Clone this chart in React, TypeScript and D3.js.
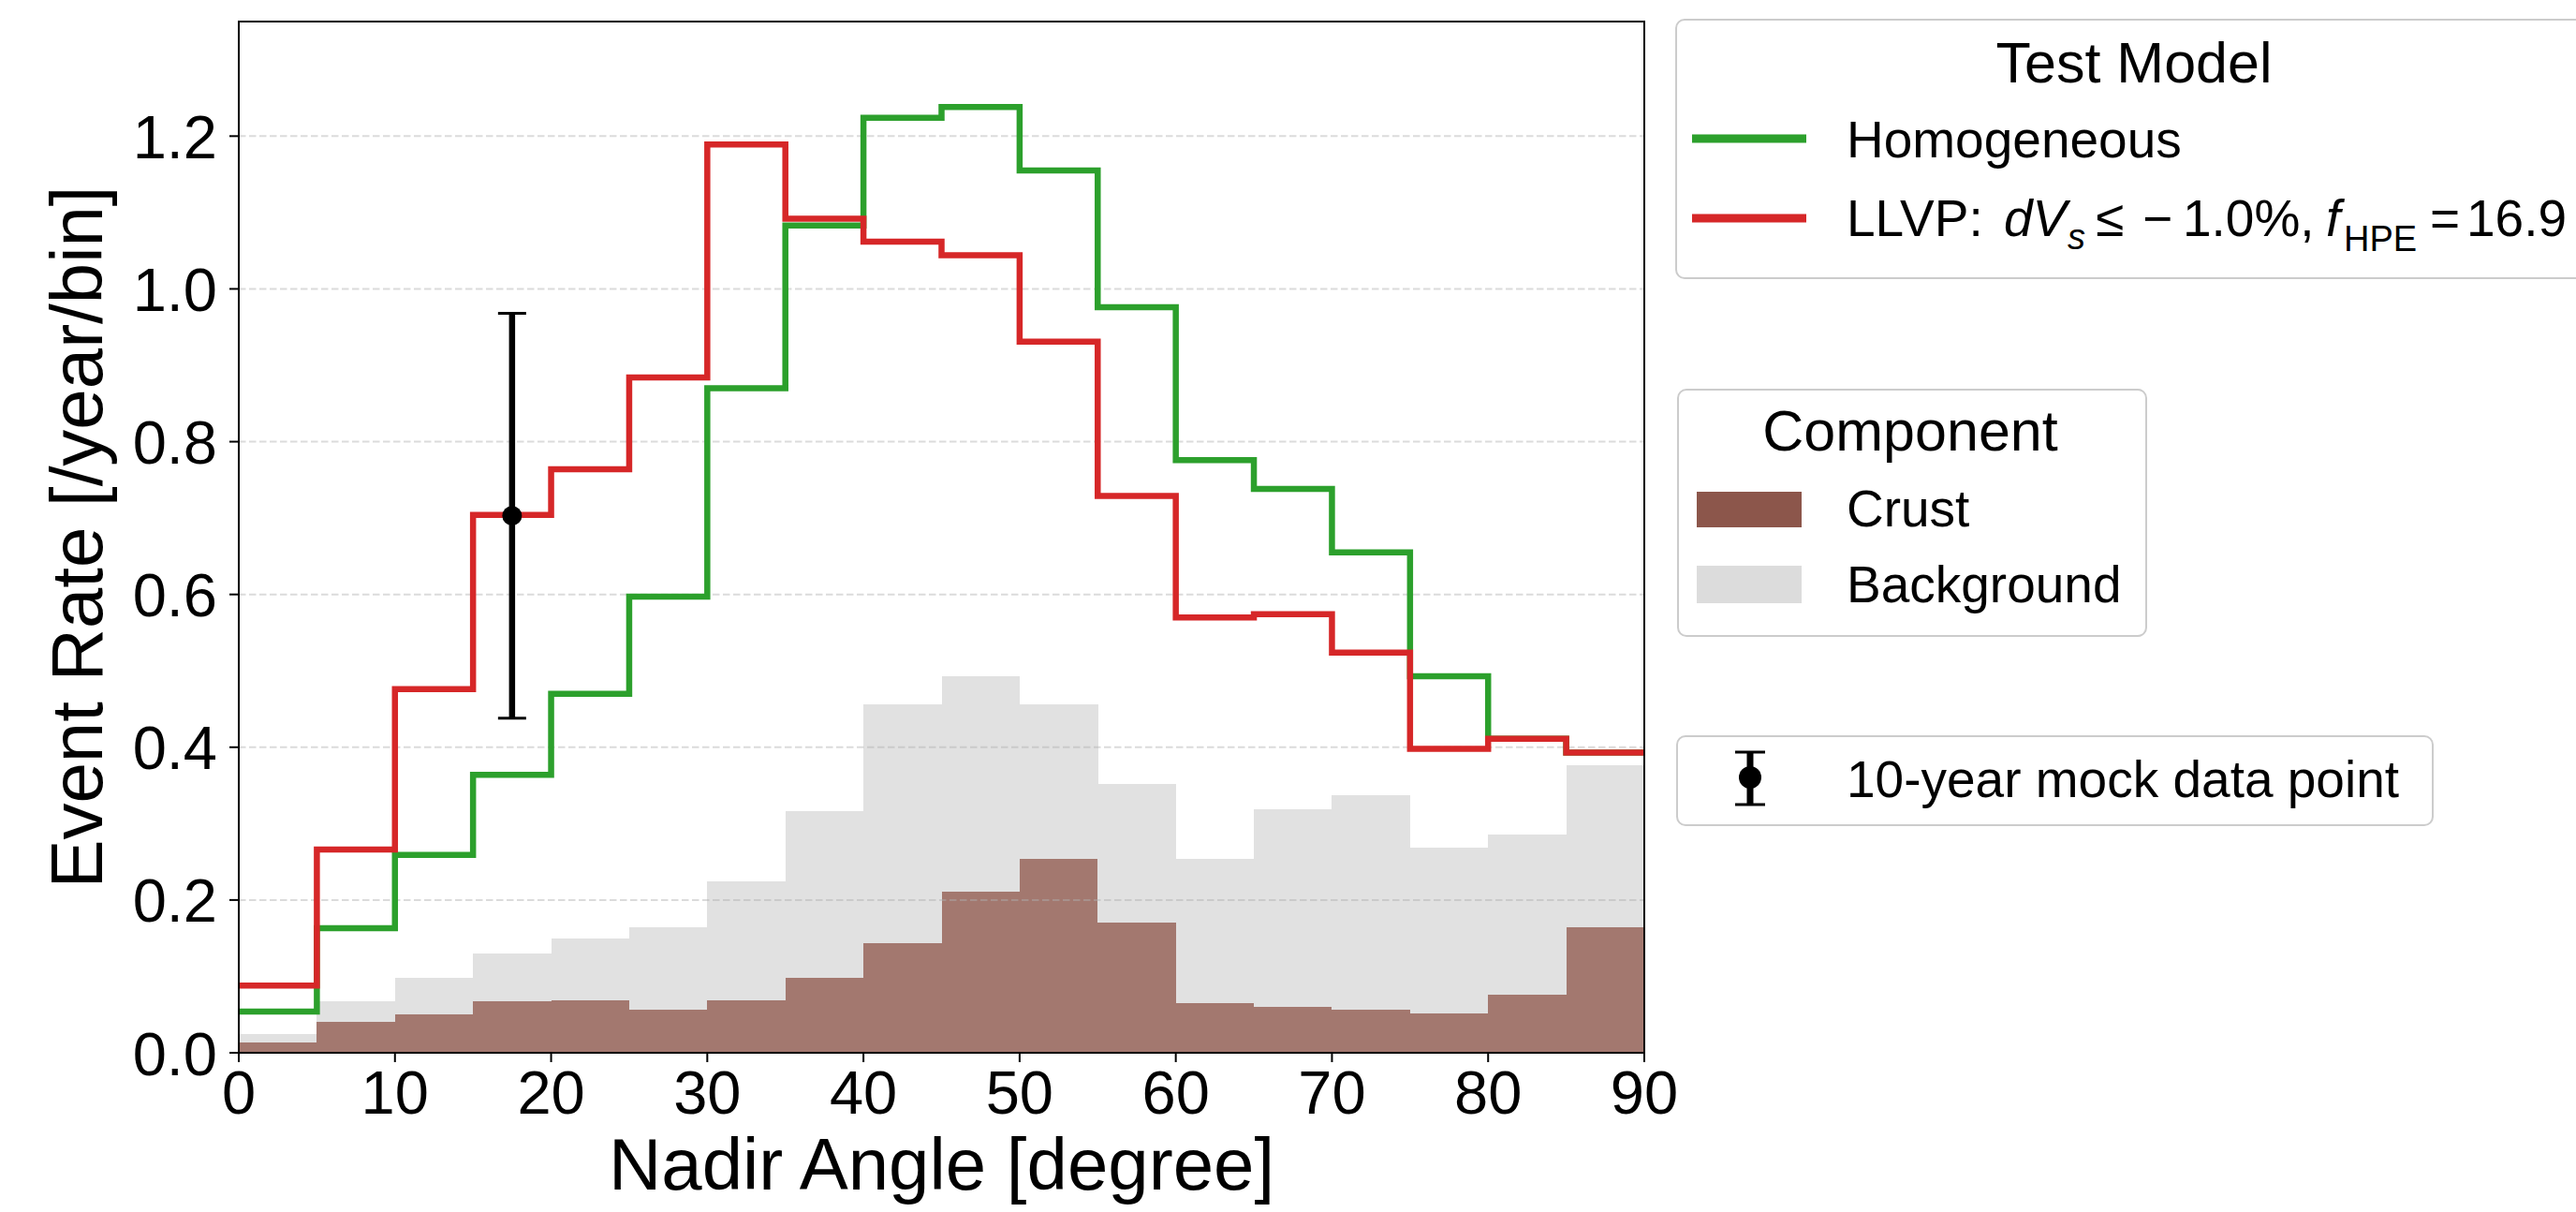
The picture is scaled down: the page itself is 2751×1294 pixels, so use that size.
import React from "react";
import * as d3 from "d3";

// ---- data ----
const binEdges = [0, 5, 10, 15, 20, 25, 30, 35, 40, 45, 50, 55, 60, 65, 70, 75, 80, 85, 90];
const homogeneous = [0.054, 0.163, 0.259, 0.364, 0.470, 0.597, 0.870, 1.083, 1.224, 1.238, 1.155, 0.976, 0.776, 0.738, 0.655, 0.493, 0.411, 0.393];
const llvp = [0.088, 0.266, 0.476, 0.704, 0.764, 0.884, 1.189, 1.092, 1.062, 1.044, 0.931, 0.729, 0.570, 0.574, 0.524, 0.398, 0.411, 0.393];
const crust = [0.013, 0.040, 0.050, 0.067, 0.069, 0.056, 0.069, 0.098, 0.144, 0.211, 0.254, 0.171, 0.065, 0.060, 0.056, 0.051, 0.076, 0.164];
const background = [0.011, 0.027, 0.048, 0.063, 0.081, 0.108, 0.155, 0.218, 0.312, 0.282, 0.202, 0.181, 0.189, 0.259, 0.281, 0.218, 0.210, 0.213];
const mockPoint = { x: 17.5, y: 0.703, err: 0.265 };
const xTicks = [0, 10, 20, 30, 40, 50, 60, 70, 80, 90];
const yTicks = [0.0, 0.2, 0.4, 0.6, 0.8, 1.0, 1.2];

const W = 2751;
const H = 1294;
const FONT = "'Liberation Sans', Arial, Helvetica, sans-serif";

const COLORS = {
  homo: "#2ca02c",
  llvp: "#d62728",
  crustFill: "#a3786f",
  crustLegend: "#8c564b",
  bg: "#e1e1e1",
  bgLegend: "#dcdcdc",
};

export default function App() {
  const x = d3.scaleLinear().domain([0, 90]).range([255, 1756]);
  const y = d3.scaleLinear().domain([0, 1.35]).range([1124, 23]);

  const stepLine = (vals: number[]) => {
    const pts: [number, number][] = vals.map((v, i) => [binEdges[i], v]);
    pts.push([binEdges[binEdges.length - 1], vals[vals.length - 1]]);
    return d3
      .line<[number, number]>()
      .x((d) => x(d[0]))
      .y((d) => y(d[1]))
      .curve(d3.curveStepAfter)(pts) as string;
  };

  const x0 = x.range()[0];
  const x1 = x.range()[1];
  const yb = y.range()[0];
  const yt = y.range()[1];

  return (
    <>
      <style>{`body{margin:0;}`}</style>
      <svg width={W} height={H} style={{ display: "block", background: "#fff" }} fontFamily={FONT}>
        <defs>
          <clipPath id="plotClip">
            <rect x={x0} y={yt} width={x1 - x0} height={yb - yt} />
          </clipPath>
        </defs>

        {/* stacked component bars */}
        <g shapeRendering="crispEdges">
          {crust.map((c, i) => {
            const xa = x(binEdges[i]);
            const xw = x(binEdges[i + 1]) - xa;
            const topC = y(c);
            const topB = y(c + background[i]);
            return (
              <g key={i}>
                <rect x={xa} y={topB} width={xw + 0.6} height={topC - topB + 0.6} fill={COLORS.bg} />
                <rect x={xa} y={topC} width={xw + 0.6} height={yb - topC} fill={COLORS.crustFill} />
              </g>
            );
          })}
        </g>

        {/* grid */}
        <g>
          {yTicks.slice(1).map((t) => (
            <line
              key={t}
              x1={x0}
              x2={x1}
              y1={y(t)}
              y2={y(t)}
              stroke="#b0b0b0"
              strokeOpacity={0.45}
              strokeWidth={2}
              strokeDasharray="7.5 3.5"
            />
          ))}
        </g>

        {/* step lines */}
        <g clipPath="url(#plotClip)">
          <path d={stepLine(homogeneous)} fill="none" stroke={COLORS.homo} strokeWidth={6.5} />
          <path d={stepLine(llvp)} fill="none" stroke={COLORS.llvp} strokeWidth={6.5} />
        </g>

        {/* mock data point */}
        <g>
          <line
            x1={x(mockPoint.x)}
            x2={x(mockPoint.x)}
            y1={y(mockPoint.y - mockPoint.err)}
            y2={y(mockPoint.y + mockPoint.err)}
            stroke="#000"
            strokeWidth={6.5}
          />
          <line x1={x(mockPoint.x) - 15} x2={x(mockPoint.x) + 15} y1={y(mockPoint.y + mockPoint.err)} y2={y(mockPoint.y + mockPoint.err)} stroke="#000" strokeWidth={3} />
          <line x1={x(mockPoint.x) - 15} x2={x(mockPoint.x) + 15} y1={y(mockPoint.y - mockPoint.err)} y2={y(mockPoint.y - mockPoint.err)} stroke="#000" strokeWidth={3} />
          <circle cx={x(mockPoint.x)} cy={y(mockPoint.y)} r={10.5} fill="#000" />
        </g>

        {/* axes frame */}
        <rect x={x0} y={yt} width={x1 - x0} height={yb - yt} fill="none" stroke="#000" strokeWidth={2} />

        {/* x ticks */}
        <g>
          {xTicks.map((t) => (
            <g key={t}>
              <line x1={x(t)} x2={x(t)} y1={yb} y2={yb + 10} stroke="#000" strokeWidth={2} />
              <text x={x(t)} y={1189} textAnchor="middle" fontSize={65} fill="#000">
                {t}
              </text>
            </g>
          ))}
        </g>

        {/* y ticks */}
        <g>
          {yTicks.map((t) => (
            <g key={t}>
              <line x1={x0 - 10} x2={x0} y1={y(t)} y2={y(t)} stroke="#000" strokeWidth={2} />
              <text x={232} y={y(t) + 23.5} textAnchor="end" fontSize={65} fill="#000">
                {t.toFixed(1)}
              </text>
            </g>
          ))}
        </g>

        {/* axis labels */}
        <text x={(x0 + x1) / 2} y={1270} textAnchor="middle" fontSize={78} fill="#000">
          Nadir Angle [degree]
        </text>
        <text
          transform={`translate(109, ${(yt + yb) / 2}) rotate(-90)`}
          textAnchor="middle"
          fontSize={78}
          fill="#000"
        >
          Event Rate [/year/bin]
        </text>

        {/* legend 1: Test Model */}
        <g>
          <rect x={1790} y={21} width={1100} height={276} rx={9} fill="#fff" stroke="#cccccc" strokeWidth={2} />
          <text x={2279} y={88} textAnchor="middle" fontSize={61} fill="#000">
            Test Model
          </text>
          <line x1={1807} x2={1929} y1={148} y2={148} stroke={COLORS.homo} strokeWidth={9} />
          <text x={1972} y={168} fontSize={55} fill="#000">
            Homogeneous
          </text>
          <line x1={1807} x2={1929} y1={233} y2={233} stroke={COLORS.llvp} strokeWidth={9} />
          <text y={252} fontSize={55} fill="#000">
            <tspan x={1972}>LLVP:</tspan>
            <tspan x={2140} fontStyle="italic">dV</tspan>
            <tspan x={2208} dy={14} fontSize={38} fontStyle="italic">s</tspan>
            <tspan x={2238} dy={-14}>≤</tspan>
            <tspan x={2288}>−</tspan>
            <tspan x={2331}>1.0%,</tspan>
            <tspan x={2484} fontStyle="italic">f</tspan>
            <tspan x={2503} dy={16} fontSize={38}>HPE</tspan>
            <tspan x={2595} dy={-16}>=</tspan>
            <tspan x={2634}>16.9</tspan>
          </text>
        </g>

        {/* legend 2: Component */}
        <g>
          <rect x={1792} y={416} width={500} height={263} rx={9} fill="#fff" stroke="#cccccc" strokeWidth={2} />
          <text x={2040} y={481} textAnchor="middle" fontSize={61} fill="#000">
            Component
          </text>
          <rect x={1812} y={525} width={112} height={38} fill={COLORS.crustLegend} />
          <text x={1972} y={562} fontSize={55} fill="#000">
            Crust
          </text>
          <rect x={1812} y={604} width={112} height={40} fill={COLORS.bgLegend} />
          <text x={1972} y={643} fontSize={55} fill="#000">
            Background
          </text>
        </g>

        {/* legend 3: mock data */}
        <g>
          <rect x={1791} y={786} width={807} height={95} rx={9} fill="#fff" stroke="#cccccc" strokeWidth={2} />
          <line x1={1869} x2={1869} y1={803} y2={859} stroke="#000" strokeWidth={7} />
          <line x1={1853} x2={1885} y1={803} y2={803} stroke="#000" strokeWidth={3} />
          <line x1={1853} x2={1885} y1={859} y2={859} stroke="#000" strokeWidth={3} />
          <circle cx={1869} cy={830} r={12} fill="#000" />
          <text x={1972} y={851} fontSize={55} fill="#000">
            10-year mock data point
          </text>
        </g>
      </svg>
    </>
  );
}
